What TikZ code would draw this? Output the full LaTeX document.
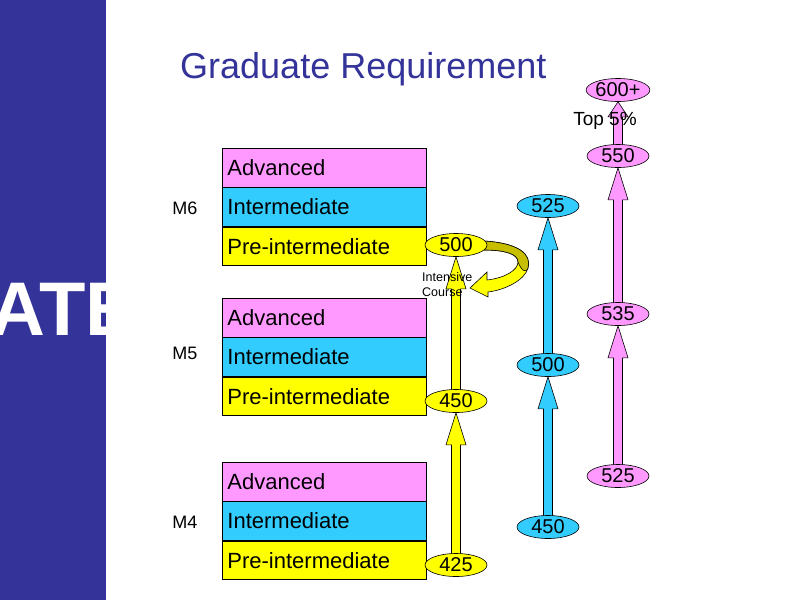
\documentclass[tikz,border=0pt]{standalone}
\usepackage{fontspec}
\setmainfont{Liberation Sans}
\usetikzlibrary{calc,shapes.geometric,backgrounds}

\definecolor{bandblue}{RGB}{51,51,153}
\definecolor{advpink}{RGB}{255,153,255}
\definecolor{intblue}{RGB}{51,204,255}
\definecolor{preyellow}{RGB}{255,255,0}
\definecolor{ribbontop}{RGB}{200,190,0}

\tikzset{
  rowbox/.style={draw=black, line width=0.8pt, text width=194pt, inner xsep=5pt,
    inner ysep=0pt, minimum height=38.5pt, anchor=north west, align=left,
    font=\fontsize{22}{26}\selectfont},
  grade/.style={ellipse, draw=black, line width=0.6pt, minimum width=62pt,
    minimum height=23pt, inner sep=0pt, font=\fontsize{20}{22}\selectfont},
  mlabel/.style={font=\fontsize{18}{21}\selectfont},
  arrowbody/.style={draw=black, line width=0.6pt, line join=miter}
}

% block arrow: [head length]{from}{to}{colour}
\newcommand\blockarrow[4][32]{%
  \filldraw[arrowbody,fill=#4] let \p1=(#2.center), \p2=(#3.south) in
    (\x1-4.5pt,\y1) -- (\x1-4.5pt,\y2-#1pt) -- (\x1-10pt,\y2-#1pt) -- (\x1,\y2)
    -- (\x1+10pt,\y2-#1pt) -- (\x1+4.5pt,\y2-#1pt) -- (\x1+4.5pt,\y1) -- cycle;}

\begin{document}
\begin{tikzpicture}[x=1pt,y=-1pt]
\useasboundingbox (0,0) rectangle (800,600);

% ============================================================
% 1. SIDE BAND AND TITLE
% ============================================================

\fill[bandblue] (0,0) rectangle (106,600);
\node[anchor=base west, inner sep=0pt, text=white,
  font=\bfseries\fontsize{76}{80}\selectfont] (side) at (-10,335) {ATE};

\node[anchor=base west, inner sep=0pt, text=bandblue,
  font=\fontsize{36}{40}\selectfont] (title) at (180,78) {Graduate Requirement};

% ============================================================
% 2. LEVEL BOXES
% ============================================================

\foreach \lvl/\top/\my in {6/148/208,5/298/353,4/462/522}{
  \node[rowbox,fill=advpink] (adv\lvl) at (222,\top) {Advanced};
  \node[rowbox,fill=intblue] (int\lvl) at (adv\lvl.south west) {Intermediate};
  \node[rowbox,fill=preyellow] (pre\lvl) at (int\lvl.south west) {Pre-intermediate};
  \node[mlabel] (m\lvl) at (185,\my) {M\lvl};
}

% ============================================================
% 3. SCORES
% ============================================================

% pre-intermediate track
\node[grade,fill=preyellow] (y425) at (456,565) {425};
\node[grade,fill=preyellow] (y450) at (456,401) {450};
\node[grade,fill=preyellow] (y500) at (456,245) {500};

% intermediate track
\node[grade,fill=intblue] (b450) at (548,527) {450};
\node[grade,fill=intblue] (b500) at (548,365) {500};
\node[grade,fill=intblue] (b525) at (548,206) {525};

% advanced track
\node[grade,fill=advpink] (p525) at (618,476) {525};
\node[grade,fill=advpink] (p535) at (618,314) {535};
\node[grade,fill=advpink] (p550) at (618,156) {550};
\node[grade,fill=advpink] (p600) at (618,90) {600+};

\begin{scope}[on background layer]
% curved ribbon to the intensive course
\filldraw[arrowbody,fill=preyellow]
  (484,241) .. controls (518,243) and (532,254) .. (528,268)
  .. controls (525,280) and (505,290) .. (488,292)
  -- (488,297) -- (470,288) -- (487,272) -- (487,280)
  .. controls (505,278) and (518,270) .. (518,262)
  .. controls (518,254) and (505,250) .. (484,250) -- cycle;
\filldraw[arrowbody,fill=ribbontop]
  (484,241) .. controls (518,243) and (532,254) .. (528,268)
  .. controls (526,274) and (521,270) .. (518,262)
  .. controls (518,254) and (505,250) .. (484,250) -- cycle;

% block arrows
\blockarrow{y425}{y450}{preyellow}
\blockarrow{y450}{y500}{preyellow}
\blockarrow{b450}{b500}{intblue}
\blockarrow{b500}{b525}{intblue}
\blockarrow{p525}{p535}{advpink}
\blockarrow{p535}{p550}{advpink}
\blockarrow[15]{p550}{p600}{advpink}
\end{scope}

% notes
\node[anchor=north west, align=left, inner sep=0pt,
  font=\fontsize{12.5}{15}\selectfont] (course) at (422,272) {Intensive\\Course};
\node[inner sep=0pt, font=\fontsize{19}{22}\selectfont] (top) at (605,121) {Top 5\%};

\end{tikzpicture}
\end{document}
